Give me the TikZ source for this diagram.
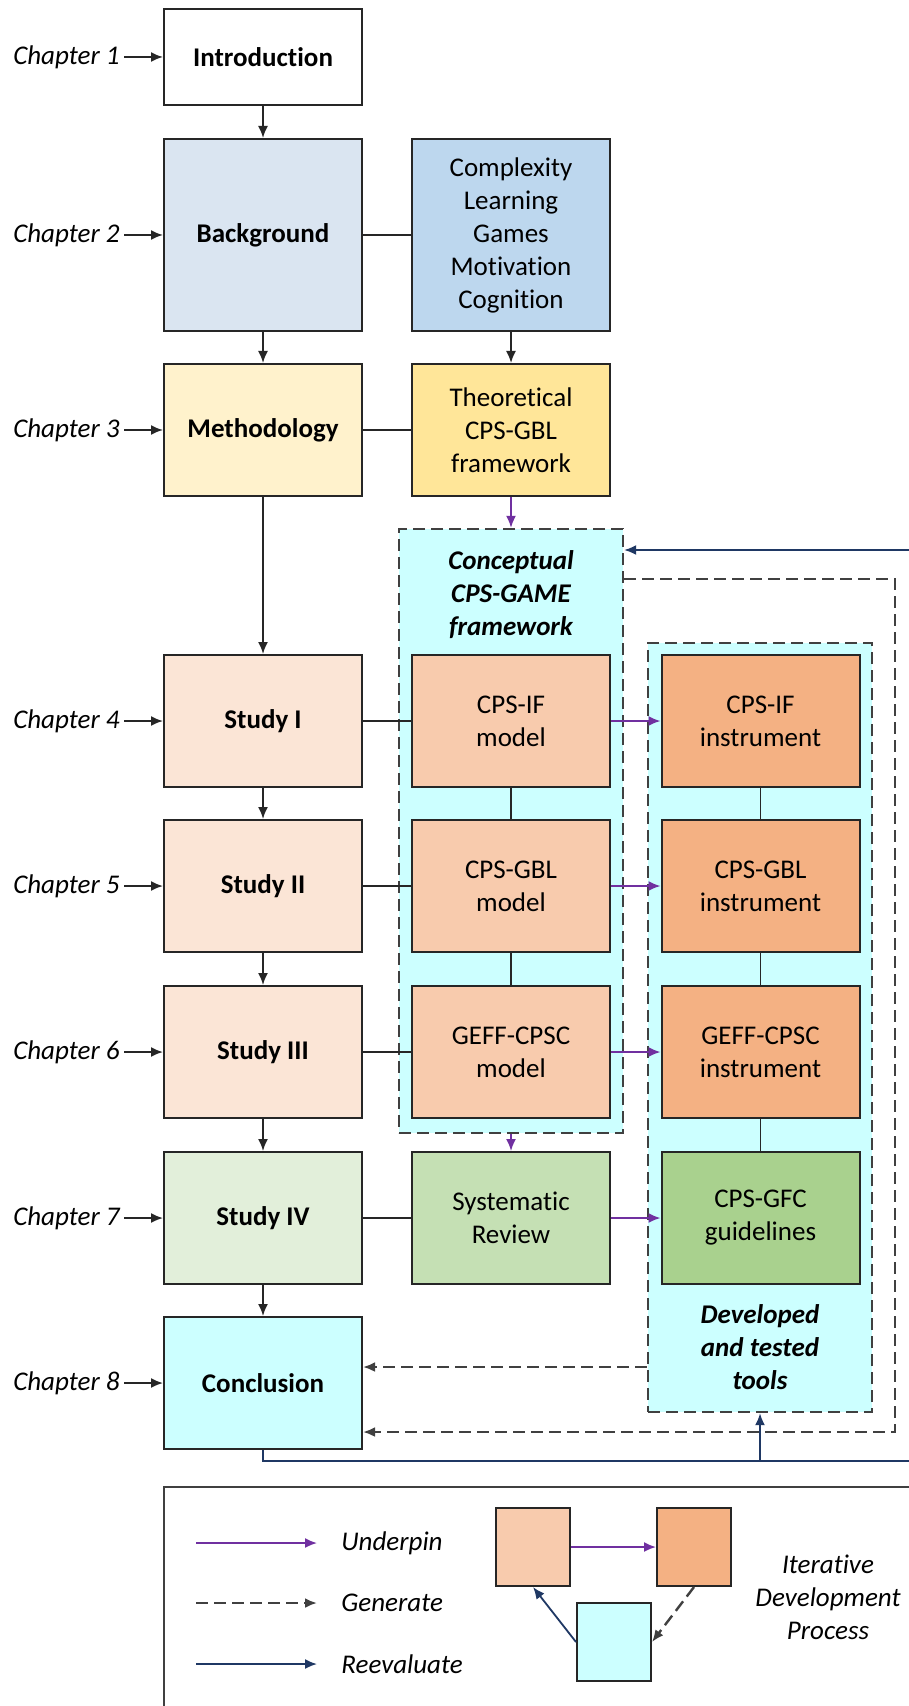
\documentclass[tikz,border=0pt]{standalone}
\usepackage{fontspec}
\setmainfont{Carlito}[Ligatures={NoCommon,NoContextual},Contextuals=NoAlternate]
\usetikzlibrary{arrows.meta,positioning}
\definecolor{edge}{HTML}{262626}
\definecolor{dashcol}{HTML}{404040}
\definecolor{bgblue}{HTML}{DAE5F1}
\definecolor{topicblue}{HTML}{BDD7EE}
\definecolor{methyel}{HTML}{FFF2CC}
\definecolor{theoyel}{HTML}{FFE699}
\definecolor{studpch}{HTML}{FBE5D6}
\definecolor{modpch}{HTML}{F8CBAD}
\definecolor{insorg}{HTML}{F4B183}
\definecolor{stud4grn}{HTML}{E2EFDA}
\definecolor{revgrn}{HTML}{C5E0B4}
\definecolor{gfcgrn}{HTML}{A9D18E}
\definecolor{cyanbg}{HTML}{CCFFFF}
\definecolor{purp}{HTML}{7030A0}
\definecolor{navy}{HTML}{1F3864}
\newcommand{\diafont}{\fontsize{13.5}{16.5}\selectfont}

\begin{document}
\begin{tikzpicture}[x=0.5pt,y=-0.5pt,>={Latex[length=6pt,width=5pt]},font=\diafont,
  box/.style={draw=edge,line width=1pt,minimum width=99pt,minimum height=66pt,align=center,inner sep=1pt,font=\diafont},
  mainbox/.style={box,font=\diafont\bfseries},
  chap/.style={anchor=east,inner sep=2pt,font=\diafont\itshape},
  group/.style={draw=dashcol,fill=cyanbg,line width=1.2pt,dash pattern=on 6pt off 3pt,minimum width=112pt},
  grouptitle/.style={align=center,font=\diafont\bfseries\itshape},
  link/.style={draw=edge,line width=0.9pt},
  under/.style={draw=purp,line width=0.9pt,-{Latex[length=6pt,width=5pt,fill=purp]}},
  gen/.style={draw=dashcol,line width=1.2pt,dash pattern=on 6pt off 3pt,->},
  reev/.style={draw=navy,line width=0.9pt},
  reevarrow/.style={reev,-{Latex[length=6pt,width=5pt,fill=navy]}},
  legtxt/.style={anchor=west,inner sep=0pt,font=\diafont\itshape}]
\useasboundingbox (0,0) rectangle (909,1706);
\fill[white] (0,0) rectangle (909,1706);
% dashed groups behind the boxes
\node[group,minimum height=302pt] (concept) at (511,831) {};
\node[grouptitle] (concepttxt) at (511,595) {Conceptual\\CPS-GAME\\framework};
\node[group,minimum height=384.5pt] (dev) at (760,1027.5) {};
\node[grouptitle] (devtxt) at (760,1347) {Developed\\and tested\\tools};
% left column: chapters
\node[mainbox,fill=white,minimum height=48pt] (intro) at (263,57) {Introduction};
\node[mainbox,fill=bgblue,minimum height=96pt] (backg) at (263,235) {Background};
\node[mainbox,fill=methyel] (meth) at (263,430) {Methodology};
\node[mainbox,fill=studpch] (stud1) at (263,721) {Study I};
\node[mainbox,fill=studpch] (stud2) at (263,886) {Study II};
\node[mainbox,fill=studpch] (stud3) at (263,1052) {Study III};
\node[mainbox,fill=stud4grn] (stud4) at (263,1218) {Study IV};
\node[mainbox,fill=cyanbg] (concl) at (263,1383) {Conclusion};
% chapter labels
\node[chap] (ch1) at (124,57) {Chapter 1};
\node[chap] (ch2) at (124,235) {Chapter 2};
\node[chap] (ch3) at (124,430) {Chapter 3};
\node[chap] (ch4) at (124,721) {Chapter 4};
\node[chap] (ch5) at (124,886) {Chapter 5};
\node[chap] (ch6) at (124,1052) {Chapter 6};
\node[chap] (ch7) at (124,1218) {Chapter 7};
\node[chap] (ch8) at (124,1383) {Chapter 8};
\draw[link,->] (ch1) -- (intro);
\draw[link,->] (ch2) -- (backg);
\draw[link,->] (ch3) -- (meth);
\draw[link,->] (ch4) -- (stud1);
\draw[link,->] (ch5) -- (stud2);
\draw[link,->] (ch6) -- (stud3);
\draw[link,->] (ch7) -- (stud4);
\draw[link,->] (ch8) -- (concl);
% middle column
\node[box,fill=topicblue,minimum height=96pt] (topics) at (511,235) {Complexity\\Learning\\Games\\Motivation\\Cognition};
\node[box,fill=theoyel] (theo) at (511,430) {Theoretical\\CPS-GBL\\framework};
\node[box,fill=modpch] (mod1) at (511,721) {CPS-IF\\model};
\node[box,fill=modpch] (mod2) at (511,886) {CPS-GBL\\model};
\node[box,fill=modpch] (mod3) at (511,1052) {GEFF-CPSC\\model};
\node[box,fill=revgrn] (sysrev) at (511,1218) {Systematic\\Review};
% right column
\node[box,fill=insorg] (ins1) at (760.5,721) {CPS-IF\\instrument};
\node[box,fill=insorg] (ins2) at (760.5,886) {CPS-GBL\\instrument};
\node[box,fill=insorg] (ins3) at (760.5,1052) {GEFF-CPSC\\instrument};
\node[box,fill=gfcgrn] (gfc) at (760.5,1218) {CPS-GFC\\guidelines};
% main flow
\draw[link,->] (intro) -- (backg);
\draw[link,->] (backg) -- (meth);
\draw[link,->] (meth) -- (stud1);
\draw[link,->] (stud1) -- (stud2);
\draw[link,->] (stud2) -- (stud3);
\draw[link,->] (stud3) -- (stud4);
\draw[link,->] (stud4) -- (concl);
\draw[link,->] (topics) -- (theo);
% plain links
\draw[link] (backg) -- (topics);
\draw[link] (meth) -- (theo);
\draw[link] (stud1) -- (mod1);
\draw[link] (stud2) -- (mod2);
\draw[link] (stud3) -- (mod3);
\draw[link] (stud4) -- (sysrev);
\draw[link] (mod1) -- (mod2) -- (mod3);
\draw[link] (ins1) -- (ins2) -- (ins3) -- (gfc);
% underpin
\draw[under] (theo) -- (concept);
\draw[under] (concept) -- (sysrev);
\draw[under] (mod1) -- (ins1);
\draw[under] (mod2) -- (ins2);
\draw[under] (mod3) -- (ins3);
\draw[under] (sysrev) -- (gfc);
% generate
\coordinate (gtop) at (895,579);
\coordinate (gbot) at (895,1432);
\draw[gen] (gtop -| concept.east) -- (gtop) -- (gbot) -- (gbot -| concl.east);
\draw[gen] (dev.west |- 0,1367) -- (concl.east |- 0,1367);
% reevaluate
\coordinate (retop) at (909,550);
\coordinate (rebot) at (909,1461);
\draw[reevarrow] (retop) -- (retop -| concept.east);
\draw[reev] (concl.south) |- (rebot);
\draw[reevarrow] (rebot -| dev.south) -- (dev.south);
% legend
\draw[dashcol,line width=1pt] (909,1487) -- (164,1487) -- (164,1706);
\coordinate (lu0) at (196,1543); \coordinate (lu1) at (317,1543);
\coordinate (lg0) at (196,1603); \coordinate (lg1) at (317,1603);
\coordinate (lr0) at (196,1664); \coordinate (lr1) at (317,1664);
\draw[under] (lu0) -- (lu1);
\draw[gen] (lg0) -- (lg1);
\draw[reevarrow] (lr0) -- (lr1);
\node[legtxt] (tu) at (341,1543) {Underpin};
\node[legtxt] (tg) at (341,1603) {Generate};
\node[legtxt] (tr) at (341,1664) {Reevaluate};
\node[box,fill=modpch,minimum width=37pt,minimum height=39pt] (lpch) at (533,1547) {};
\node[box,fill=insorg,minimum width=37pt,minimum height=39pt] (lorg) at (694,1547) {};
\node[box,fill=cyanbg,minimum width=37pt,minimum height=39pt] (lcyn) at (614,1642) {};
\draw[under] (lpch) -- (lorg);
\draw[gen] (lorg.south) -- (lcyn.east);
\draw[reevarrow] (lcyn.west) -- (lpch.south);
\node[align=center,font=\diafont\itshape] (iter) at (828,1597) {Iterative\\Development\\Process};
\end{tikzpicture}
\end{document}
